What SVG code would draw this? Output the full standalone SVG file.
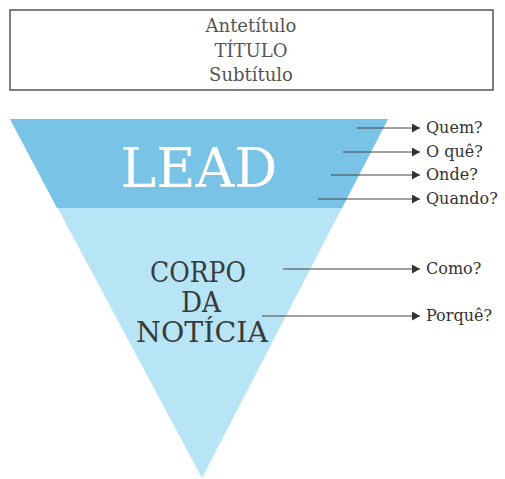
<svg xmlns="http://www.w3.org/2000/svg" width="505" height="479" viewBox="0 0 505 479">
<defs>
<marker id="arr" markerWidth="9" markerHeight="9" refX="8" refY="4.5" orient="auto" markerUnits="userSpaceOnUse">
<path d="M0,0 L8,4.5 L0,9 Z" fill="#333"/>
</marker>
<style>
.hdr{font-family:"DejaVu Serif","Liberation Serif",serif;font-size:18px;fill:#555;text-anchor:middle}
.lbl{font-family:"DejaVu Serif","Liberation Serif",serif;font-size:16px;fill:#333}
.conn{stroke:#444;stroke-width:1.2;fill:none;marker-end:url(#arr)}
.body{font-family:"DejaVu Serif","Liberation Serif",serif;font-size:27px;fill:#3a3a3a;text-anchor:middle}
</style>
</defs>
<rect width="505" height="479" fill="#fff"/>
<g id="header">
<rect x="10" y="10" width="483" height="80" fill="#fff" stroke="#555" stroke-width="1.5"/>
<text class="hdr" x="251" y="32">Antetítulo</text>
<text class="hdr" x="251" y="57">TÍTULO</text>
<text class="hdr" x="251" y="81">Subtítulo</text>
</g>
<g id="pyramid">
<polygon points="10,119 388,119 202,478" fill="#b8e5f6"/>
<polygon points="10,119 388,119 342,208 57,208" fill="#79c3e7"/>
</g>
<g id="lead">
<text x="199" y="187" font-family="DejaVu Serif, Liberation Serif, serif" font-size="54" fill="#fff" text-anchor="middle" textLength="157" lengthAdjust="spacingAndGlyphs">LEAD</text>
</g>
<g id="corpo">
<text class="body" x="198" y="282" textLength="96" lengthAdjust="spacingAndGlyphs">CORPO</text>
<text class="body" x="201" y="312" textLength="40" lengthAdjust="spacingAndGlyphs">DA</text>
<text class="body" x="202" y="342" textLength="132" lengthAdjust="spacingAndGlyphs">NOTÍCIA</text>
</g>
<g id="connectors">
<line class="conn" x1="357" y1="128" x2="420" y2="128"/>
<line class="conn" x1="343" y1="152" x2="420" y2="152"/>
<line class="conn" x1="331" y1="175" x2="420" y2="175"/>
<line class="conn" x1="318" y1="199" x2="420" y2="199"/>
<line class="conn" x1="283" y1="269" x2="420" y2="269"/>
<line class="conn" x1="262" y1="316" x2="420" y2="316"/>
</g>
<g id="labels">
<text class="lbl" x="426" y="133">Quem?</text>
<text class="lbl" x="426" y="157">O quê?</text>
<text class="lbl" x="426" y="180">Onde?</text>
<text class="lbl" x="426" y="204">Quando?</text>
<text class="lbl" x="426" y="274">Como?</text>
<text class="lbl" x="426" y="321">Porquê?</text>
</g>
</svg>
